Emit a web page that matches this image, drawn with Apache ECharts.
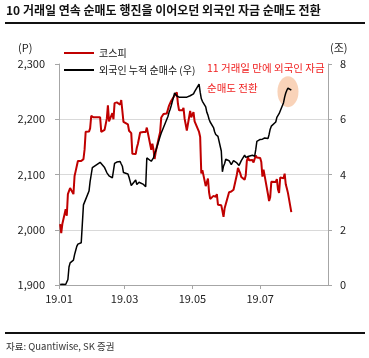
<!DOCTYPE html>
<html><head><meta charset="utf-8">
<script src="https://cdn.jsdelivr.net/npm/echarts@6/dist/echarts.min.js"></script>
<style>html,body{margin:0;padding:0;background:#fff}#c{width:369px;height:358px}</style>
</head><body><div id="c"></div><script>
// trading days (2019, M/D)
const dates = [
 '1/2','1/3','1/4','1/7','1/8','1/9','1/10','1/11','1/14','1/15','1/16','1/17','1/18','1/21','1/22','1/23','1/24','1/25','1/28','1/29','1/30','1/31',
 '2/1','2/7','2/8','2/11','2/12','2/13','2/14','2/15','2/18','2/19','2/20','2/21','2/22','2/25','2/26','2/27','2/28',
 '3/4','3/5','3/6','3/7','3/8','3/11','3/12','3/13','3/14','3/15','3/18','3/19','3/20','3/21','3/22','3/25','3/26','3/27','3/28','3/29',
 '4/1','4/2','4/3','4/4','4/5','4/8','4/9','4/10','4/11','4/12','4/15','4/16','4/17','4/18','4/19','4/22','4/23','4/24','4/25','4/26','4/29','4/30',
 '5/2','5/3','5/7','5/8','5/9','5/10','5/13','5/14','5/15','5/16','5/17','5/20','5/21','5/22','5/23','5/24','5/27','5/28','5/29','5/30','5/31',
 '6/3','6/4','6/5','6/7','6/10','6/11','6/12','6/13','6/14','6/17','6/18','6/19','6/20','6/21','6/24','6/25','6/26','6/27','6/28',
 '7/1','7/2','7/3','7/4','7/5','7/8','7/9','7/10','7/11','7/12','7/15','7/16','7/17','7/18','7/19','7/22','7/23','7/24','7/25','7/26','7/29'
];
// KOSPI (P, left axis)
const kospi = [
 2010.0,1993.7,2010.3,2037.1,2025.3,2064.5,2063.3,2075.6,2064.5,2097.2,2106.1,2107.1,2124.3,2124.6,2127.1,2127.8,2145.0,2177.3,2177.7,2183.4,2206.2,2204.9,
 2203.5,2203.4,2177.1,2180.7,2190.8,2201.0,2225.1,2196.1,2210.9,2200.1,2229.2,2228.5,2230.5,2226.6,2234.8,2234.8,2195.4,
 2190.7,2179.2,2175.6,2174.8,2137.4,2137.1,2148.4,2155.7,2155.7,2176.1,2177.0,2177.6,2177.1,2184.9,2187.0,2144.9,2155.7,2145.4,2128.1,2140.7,
 2168.3,2177.2,2203.3,2206.5,2209.6,2210.6,2213.5,2224.8,2224.8,2233.5,2242.9,2245.9,2248.6,2228.0,2216.2,2216.2,2220.5,2201.0,2190.5,2179.3,2215.0,2203.6,
 2212.8,2196.3,2177.0,2168.0,2102.0,2108.0,2079.0,2081.8,2092.8,2067.7,2055.8,2061.3,2064.8,2059.6,2064.5,2045.3,2044.2,2034.2,2023.3,2038.8,2041.7,
 2067.9,2067.0,2069.1,2072.3,2099.5,2111.8,2108.5,2102.5,2095.4,2090.7,2098.7,2124.8,2131.3,2125.6,2126.3,2121.6,2122.0,2134.3,2130.6,
 2129.7,2122.5,2096.0,2108.7,2110.6,2064.2,2052.0,2058.8,2086.7,2086.7,2086.5,2091.7,2072.9,2066.6,2094.4,2093.4,2101.5,2082.3,2074.5,2066.3,2032.0
];
// 외국인 누적 순매수 (조원, right axis)
const foreign = [
 0.02,0.00,0.03,0.02,0.05,0.20,0.65,0.80,0.90,1.10,1.25,1.40,1.48,1.53,1.56,2.90,3.00,3.10,3.40,3.75,4.00,4.25,
 4.30,4.44,4.40,4.25,4.22,4.07,4.05,3.95,3.88,3.85,4.40,4.47,4.45,4.47,4.38,4.30,4.07,
 4.02,3.90,3.75,3.60,3.56,3.80,3.64,3.68,3.72,3.70,3.64,3.60,3.56,4.60,4.55,4.48,4.44,4.60,4.75,4.85,
 5.25,5.38,5.50,5.60,5.70,6.00,6.10,6.25,6.36,6.50,6.95,6.90,6.84,6.82,6.80,6.80,6.78,6.80,6.82,6.80,6.85,6.88,
 6.92,7.00,7.27,6.98,6.75,6.65,6.45,6.25,6.15,6.00,5.90,5.70,5.55,5.45,5.40,5.38,4.85,4.10,4.30,4.40,4.55,
 4.50,4.45,4.36,4.50,4.42,4.40,4.33,4.35,4.50,4.70,4.62,4.60,4.65,4.62,4.70,4.65,4.66,4.90,5.20,
 5.27,5.30,5.28,5.30,5.32,5.30,5.45,5.64,5.75,5.80,5.90,6.07,6.12,6.20,6.30,6.60,6.80,6.95,7.05,7.13,7.05
];
const seriesNames = ['코스피', '외국인 누적 순매수 (우)'];
const xTickDates = ['1/1', '3/1', '5/1', '7/1'];
const xTickLabels = ['19.01', '19.03', '19.05', '19.07'];
const xRange = ['1/1', '8/31'];
const highlight = ['7/26', 7.0];
const titleText = '10 거래일 연속 순매도 행진을 이어오던 외국인 자금 순매도 전환';
const noteLines = ['11 거래일 만에 외국인 자금', '순매도 전환'];
const sourceText = '자료: Quantiwise, SK 증권';

const FONT = '"Noto Sans CJK KR", "Noto Sans", sans-serif';
const dayOf = s => { const [m, d] = s.split('/').map(Number); return (Date.UTC(2019, m - 1, d) - Date.UTC(2019, 0, 1)) / 864e5; };
const tickDays = xTickDates.map(dayOf);
const comma = v => String(v).replace(/\B(?=(\d{3})+(?!\d))/g, ',');
const axisGray = '#a6a6a6';

const chart = echarts.init(document.getElementById('c'), null, { renderer: 'canvas' });
chart.setOption({
  animation: false,
  textStyle: { fontFamily: FONT },
  grid: { left: 59, top: 64, width: 269, height: 221 },
  legend: {
    data: seriesNames, orient: 'vertical', left: 59, top: 43, itemWidth: 30, itemHeight: 2, itemGap: 7,
    icon: 'rect', textStyle: { fontSize: 10, color: '#111', fontFamily: FONT }, selectedMode: false
  },
  xAxis: {
    type: 'value', min: dayOf(xRange[0]), max: dayOf(xRange[1]),
    axisLine: { lineStyle: { color: axisGray, width: 1 } },
    axisTick: { show: true, customValues: tickDays, length: 4, lineStyle: { color: axisGray } },
    axisLabel: { customValues: tickDays, formatter: v => xTickLabels[tickDays.indexOf(v)] || '', fontSize: 11, color: '#222', margin: 8, fontFamily: FONT },
    splitLine: { show: false }
  },
  yAxis: [{
    type: 'value', min: 1900, max: 2300, interval: 100, position: 'left',
    axisLine: { show: true, lineStyle: { color: axisGray } },
    axisTick: { show: true, length: 4, lineStyle: { color: axisGray } },
    axisLabel: { formatter: v => comma(v), fontSize: 11, color: '#222', margin: 14, fontFamily: FONT },
    splitLine: { show: true, showMaxLine: false, lineStyle: { color: '#d9d9d9', width: 1 } }
  }, {
    type: 'value', min: 0, max: 8, interval: 2, position: 'right',
    axisLine: { show: true, lineStyle: { color: axisGray } },
    axisTick: { show: true, length: 4, lineStyle: { color: axisGray } },
    axisLabel: { fontSize: 11, color: '#222', margin: 12, fontFamily: FONT },
    splitLine: { show: false }
  }],
  series: [{
    name: 'highlight', type: 'scatter', yAxisIndex: 1, z: 1, silent: true,
    symbol: 'circle', symbolSize: [21, 31],
    itemStyle: { color: 'rgba(246,186,146,0.8)' },
    data: [[dayOf(highlight[0]), highlight[1]]]
  }, {
    name: seriesNames[0], type: 'line', yAxisIndex: 0, z: 3, showSymbol: false,
    lineStyle: { color: '#c00000', width: 2 }, itemStyle: { color: '#c00000' },
    data: dates.map((d, i) => [dayOf(d), kospi[i]])
  }, {
    name: seriesNames[1], type: 'line', yAxisIndex: 1, z: 4, showSymbol: false,
    lineStyle: { color: '#000', width: 1.5 }, itemStyle: { color: '#000' },
    data: dates.map((d, i) => [dayOf(d), foreign[i]])
  }],
  graphic: [
    { type: 'text', left: 6, top: 4, style: { text: titleText, font: 'bold 12px ' + FONT, fill: '#111' } },
    { type: 'rect', shape: { x: 5, y: 22, width: 360, height: 2 }, style: { fill: '#111' } },
    { type: 'text', x: 18, y: 42, style: { text: '(P)', font: '11px ' + FONT, fill: '#222' } },
    { type: 'text', x: 330, y: 42, style: { text: '(조)', font: '11px ' + FONT, fill: '#222' } },
    { type: 'text', x: 207, y: 63, style: { text: noteLines[0], font: '10.5px ' + FONT, fill: '#f01e1e' } },
    { type: 'text', x: 207, y: 83, style: { text: noteLines[1], font: '10.5px ' + FONT, fill: '#f01e1e' } },
    { type: 'rect', shape: { x: 5, y: 332, width: 360, height: 2 }, style: { fill: '#111' } },
    { type: 'text', x: 6, y: 342, style: { text: sourceText, font: '9.5px ' + FONT, fill: '#333' } }
  ]
});
</script></body></html>
